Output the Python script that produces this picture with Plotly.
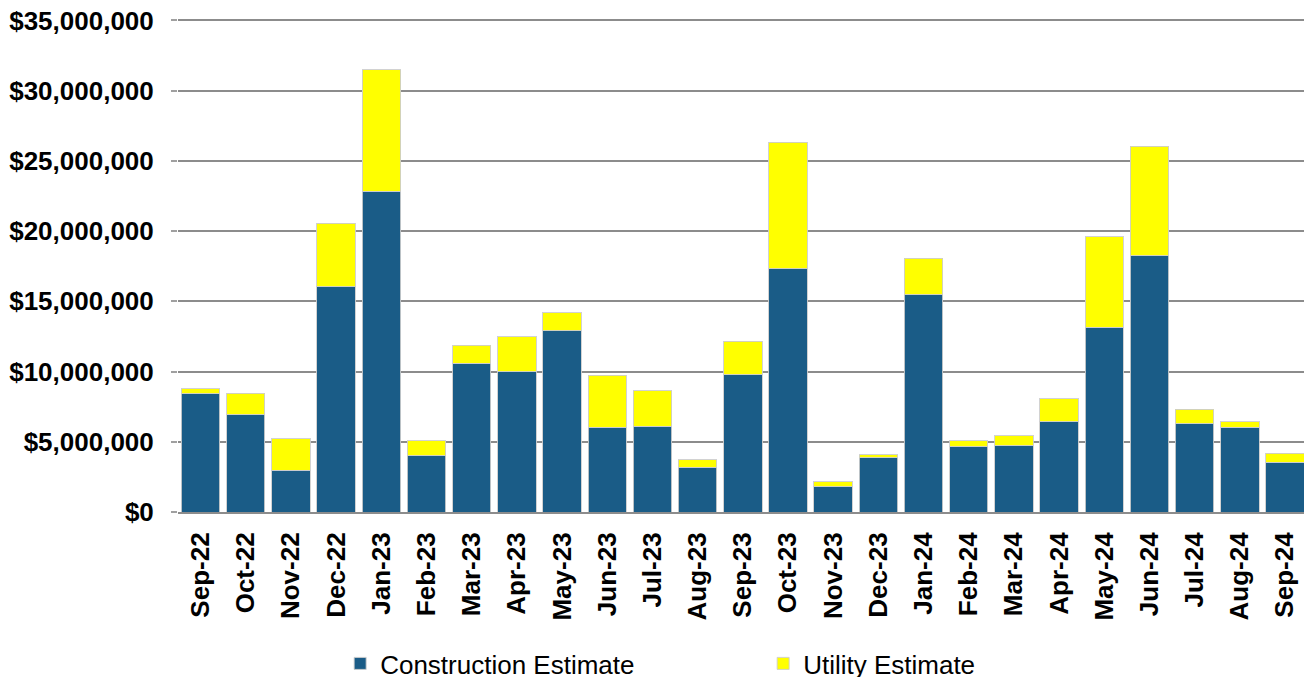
import plotly.graph_objects as go

months = [
    "Sep-22", "Oct-22", "Nov-22", "Dec-22", "Jan-23", "Feb-23", "Mar-23",
    "Apr-23", "May-23", "Jun-23", "Jul-23", "Aug-23", "Sep-23", "Oct-23",
    "Nov-23", "Dec-23", "Jan-24", "Feb-24", "Mar-24", "Apr-24", "May-24",
    "Jun-24", "Jul-24", "Aug-24", "Sep-24",
]

construction = [
    8410000, 6940000, 2980000, 16040000, 22840000, 3990000, 10590000,
    9970000, 12920000, 6030000, 6120000, 3200000, 9780000, 17320000,
    1800000, 3870000, 15470000, 4660000, 4710000, 6410000, 13160000,
    18260000, 6300000, 6030000, 3560000,
]

utility = [
    360000, 1520000, 2230000, 4520000, 8640000, 1080000, 1280000,
    2520000, 1250000, 3700000, 2530000, 520000, 2370000, 9010000,
    340000, 190000, 2610000, 430000, 720000, 1660000, 6440000,
    7780000, 1030000, 380000, 620000,
]

BLUE = "#1a5c87"
YELLOW = "#ffff00"
GRID = "#8c8c8c"
FONT = "Liberation Sans, Arial, sans-serif"

fig = go.Figure()
fig.add_trace(
    go.Bar(
        x=months,
        y=construction,
        name="Construction Estimate",
        marker=dict(color=BLUE, line=dict(color="rgba(205,205,205,0.9)", width=1)),
    )
)
fig.add_trace(
    go.Bar(
        x=months,
        y=utility,
        name="Utility Estimate",
        marker=dict(color=YELLOW, line=dict(color="rgba(205,205,205,0.9)", width=1)),
    )
)

# page is 10px taller than the window so the legend box can hang below it
fig.update_layout(
    barmode="stack",
    bargap=0.15,
    width=1304,
    height=687,
    paper_bgcolor="white",
    plot_bgcolor="white",
    margin=dict(l=178, r=0, t=19, b=175),
    font=dict(family=FONT, color="black"),
    showlegend=True,
    legend=dict(
        orientation="h",
        x=0.144,
        xanchor="left",
        y=-0.3555,
        yanchor="bottom",
        font=dict(size=26, family=FONT, color="black"),
        entrywidth=378,
        traceorder="normal",
    ),
)

fig.update_xaxes(
    range=[-0.5, 24.42],
    tickangle=-90,
    tickfont=dict(size=26, family=FONT, color="black", weight="bold"),
    showline=True,
    linecolor=GRID,
    linewidth=2,
    ticks="",
    ticklabelstandoff=8,
    showgrid=False,
    automargin=False,
)

fig.update_yaxes(
    range=[0, 35100000],
    tick0=0,
    dtick=5000000,
    tickprefix="$",
    tickformat=",.0f",
    tickfont=dict(size=26, family=FONT, color="black", weight="bold"),
    showgrid=True,
    gridcolor=GRID,
    gridwidth=2,
    zeroline=False,
    ticks="outside",
    ticklen=6,
    tickwidth=2,
    tickcolor="#a0a0a0",
    ticklabelstandoff=12,
    automargin=False,
)

fig.write_html(
    "out.html",
    config={"displayModeBar": False},
    post_script="document.body.style.margin='0';document.body.style.overflow='hidden';",
)
